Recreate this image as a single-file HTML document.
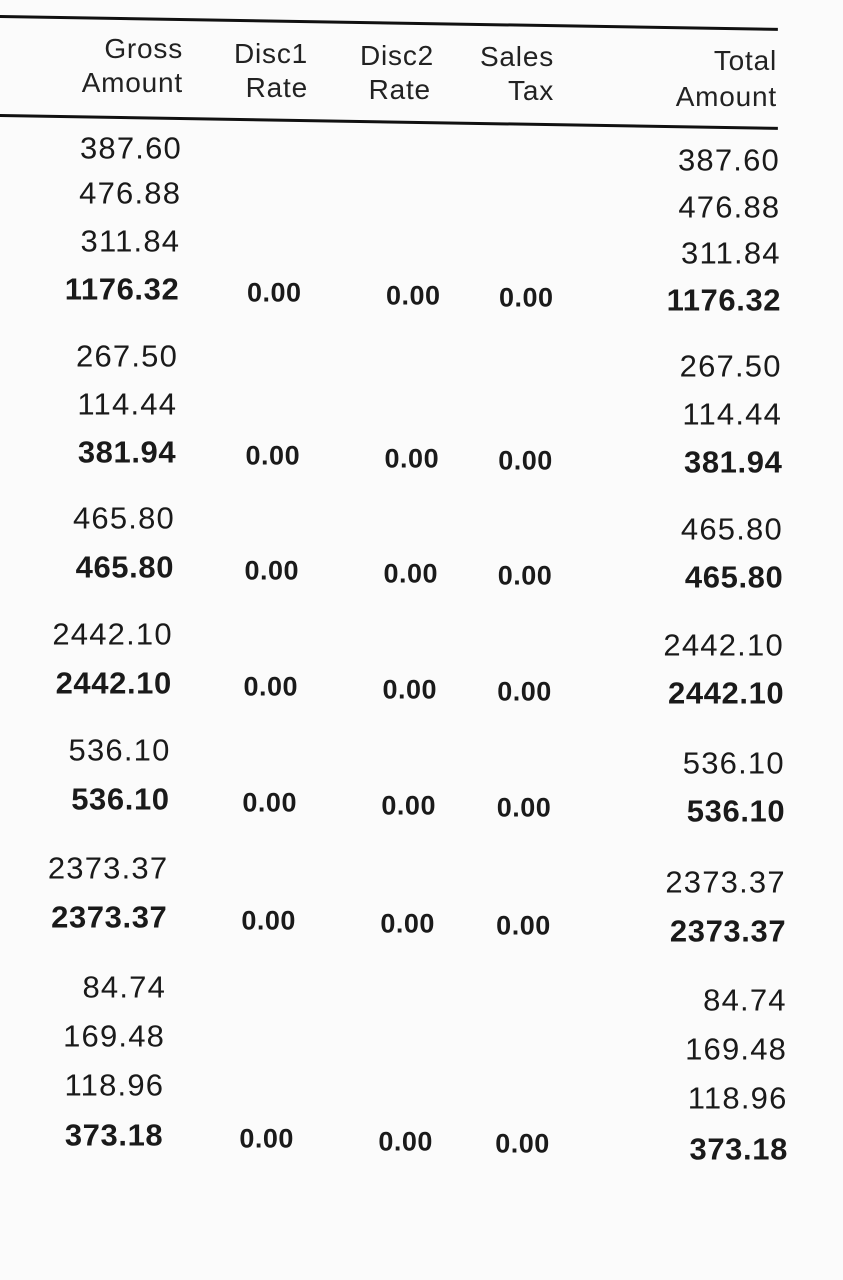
<!DOCTYPE html>
<html><head><meta charset="utf-8"><style>
html,body{margin:0;padding:0}
body{width:843px;height:1280px;background:#fbfbfb;position:relative;overflow:hidden;font-family:"Liberation Sans",sans-serif;color:#1a1a1a}
.t{position:absolute;white-space:nowrap;line-height:1;transform:translateY(-50%)}
.r{text-align:right}
.h{font-size:28px;color:#222;letter-spacing:0.8px}
.n{font-size:31px;letter-spacing:1.2px}
.b{font-size:31px;font-weight:bold;letter-spacing:0.6px}
.z{font-size:27px;font-weight:bold;letter-spacing:0.5px}
.line{position:absolute;height:3px;background:#111;transform-origin:0 0}
</style></head><body>
<div class="line" style="left:0;top:15px;width:778px;transform:rotate(0.95deg)"></div>
<div class="line" style="left:0;top:114px;width:778px;transform:rotate(0.95deg)"></div>
<div class="t h r" style="right:660px;top:66px;line-height:34px;">Gross<br>Amount</div>
<div class="t h" style="left:234px;top:71px;line-height:34px;text-align:right">Disc1<br>&nbsp;Rate</div>
<div class="t h" style="left:360px;top:73px;line-height:34px;">Disc2<br>&nbsp;Rate</div>
<div class="t h r" style="right:289px;top:74px;line-height:34px;">Sales<br>Tax</div>
<div class="t h r" style="right:66px;top:79px;line-height:36px;">Total<br>Amount</div>
<div id="rows"></div>
<script>
const grossValues=["387.60","476.88","311.84","1176.32","267.50","114.44","381.94","465.80","465.80","2442.10","2442.10","536.10","536.10","2373.37","2373.37","84.74","169.48","118.96","373.18"];
const isSubtotal=[0,0,0,1,0,0,1,0,1,0,1,0,1,0,1,0,0,0,1];
const grossY=[148,193,241,289,356,404,452,518,567,634,683,750,799,868,917,987,1036,1085,1135];
const totalY=[160,207,253,300,366,414,462,529,577,645,693,763,811,882,931,1000,1049,1098,1149];
const disc1Values=["0.00","0.00","0.00","0.00","0.00","0.00","0.00"];
const disc2Values=["0.00","0.00","0.00","0.00","0.00","0.00","0.00"];
const taxValues=["0.00","0.00","0.00","0.00","0.00","0.00","0.00"];
const root=document.getElementById('rows');
function add(txt,cls,left,right,y,name){
  const d=document.createElement('div');
  d.className='t '+cls;
  d.textContent=txt;
  if(right!==null){d.style.right=(843-right)+'px';}else{d.style.left=left+'px';}
  d.style.top=y+'px';
  
  
  root.appendChild(d);
}
let s=0;
for(let i=0;i<grossValues.length;i++){
  const gy=grossY[i], ty=totalY[i];
  const grossRight=182-(gy-148)*0.019;
  const totalRight=780+(ty-160)*0.008;
  const cls=isSubtotal[i]?'b':'n';
  add(grossValues[i],cls,null,grossRight,gy,'gross-amount-'+(i+1));
  add(grossValues[i],cls,null,totalRight,ty,'total-amount-'+(i+1));
  if(isSubtotal[i]){
    const zy=gy+4;
    const sh=(gy-289)*0.009;
    add(disc1Values[s],'z',247-sh,null,zy,'disc1-rate-'+(s+1));
    add(disc2Values[s],'z',386-sh,null,zy+3,'disc2-rate-'+(s+1));
    add(taxValues[s],'z',499-sh*0.5,null,zy+5,'sales-tax-'+(s+1));
    s++;
  }
}
</script>
</body></html>
